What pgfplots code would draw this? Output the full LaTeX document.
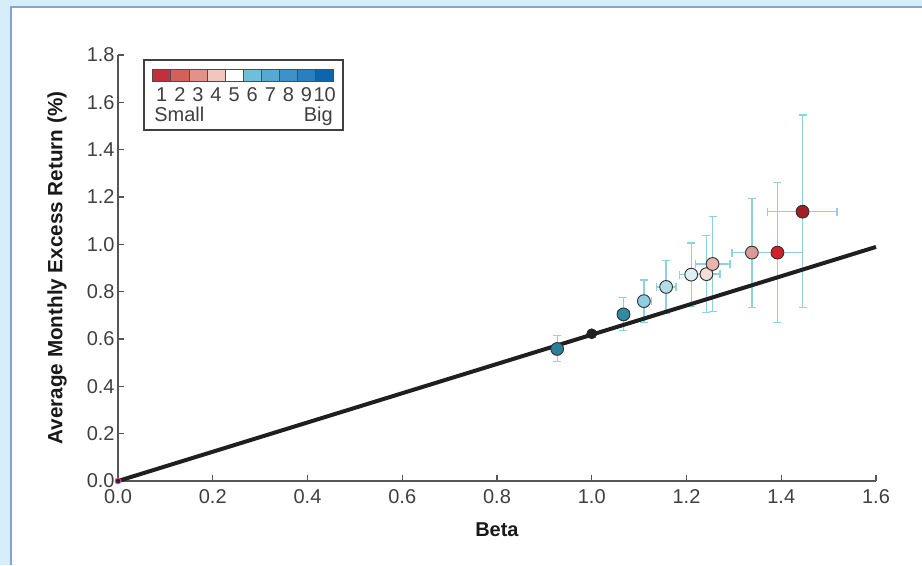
\documentclass[border=0pt]{standalone}
\usepackage{pgfplots}
\pgfplotsset{compat=1.18}
\usepackage{fontspec}
\setmainfont{Liberation Sans}
\definecolor{bgblue}{HTML}{D5EEFA}
\definecolor{frameblue}{HTML}{86A3CF}
\definecolor{errc}{HTML}{8DD3DE}
\definecolor{axisgray}{HTML}{555555}
\definecolor{txtgray}{HTML}{404040}
\definecolor{pA}{HTML}{A51C24}
\definecolor{pB}{HTML}{D0202A}
\definecolor{pC}{HTML}{D99A98}
\definecolor{pD}{HTML}{E8B4B0}
\definecolor{pE}{HTML}{F6DCD8}
\definecolor{pF}{HTML}{DFF0F4}
\definecolor{pG}{HTML}{B3DDE8}
\definecolor{pH}{HTML}{8FCDE0}
\definecolor{pI}{HTML}{2F8AA3}
\definecolor{pJ}{HTML}{2B7F99}
\definecolor{lA}{HTML}{C1313B}
\definecolor{lB}{HTML}{D5605A}
\definecolor{lC}{HTML}{E3928A}
\definecolor{lD}{HTML}{F2C6BD}
\definecolor{lE}{HTML}{FFFFFF}
\definecolor{lF}{HTML}{6FBEDC}
\definecolor{lG}{HTML}{55A9D3}
\definecolor{lH}{HTML}{3D92C7}
\definecolor{lI}{HTML}{2A7FBD}
\definecolor{lJ}{HTML}{0F64AD}
\begin{document}
\begin{tikzpicture}[x=0.75pt,y=0.75pt]
\path[use as bounding box] (0,0) rectangle (922,565);
\fill[bgblue] (0,0) rectangle (922,565);
\fill[white] (10.5,0) rectangle (922,557.5);
\draw[frameblue, line width=1.5pt] (10.5,0) -- (10.5,557.5) -- (922,557.5);
\begin{axis}[
  at={(88.5pt,63pt)}, anchor=south west,
  scale only axis, width=568.5pt, height=319.5pt,
  xmin=0, xmax=1.6, ymin=0, ymax=1.8,
  axis x line*=bottom, axis y line*=left,
  axis line style={axisgray, line width=0.8pt, -},
  tick align=inside, major tick length=4.5pt,
  tick style={axisgray, line width=0.8pt},
  xtick={0,0.2,...,1.6}, ytick={0,0.2,...,1.8},
  clip=false,
  /pgf/number format/.cd, fixed, fixed zerofill, precision=1, assume math mode=true, /pgfplots/.cd,
  ticklabel style={font=\fontsize{15}{18}\selectfont, text=txtgray},
  xticklabel style={yshift=-3pt},
  yticklabel style={xshift=1pt},
  xlabel={\textbf{Beta}},
  ylabel={\textbf{Average Monthly Excess Return (\%)}},
  xlabel style={font=\fontsize{15}{18}\selectfont, text=black!90, at={(axis description cs:0.5,-0.115)}, anchor=center},
  ylabel style={font=\fontsize{15.5}{18}\selectfont, text=black!90, at={(axis description cs:-0.0805,0.5)}, anchor=center},
]
% error bars
\addplot[errc, only marks, mark=none,
  error bars/.cd, x dir=both, x explicit, y dir=both, y explicit,
  error bar style={errc, line width=1pt},
  error mark options={draw=errc, line width=1pt, rotate=90, mark size=3pt}]
coordinates {
  (0.927,0.558) += (0,0.056) -= (0,0.054)
  (1.067,0.704) += (0.012,0.071) -= (0.012,0.069)
  (1.110,0.760) += (0.016,0.090) -= (0.009,0.090)
  (1.157,0.820) += (0.021,0.112) -= (0.020,0.113)
  (1.210,0.872) += (0.024,0.134) -= (0.025,0.134)
  (1.242,0.874) += (0.029,0.164) -= (0.030,0.161)
  (1.255,0.917) += (0.037,0.201) -= (0.036,0.202)
  (1.338,0.965) += (0.042,0.228) -= (0.042,0.233)
  (1.392,0.965) += (0.053,0.295) -= (0.053,0.295)
  (1.445,1.138) += (0.073,0.408) -= (0.074,0.406)
};
% security market line
\addplot[color=black!88, line width=3pt, mark=none] coordinates {(0,0) (1.6,0.989)};
% points
\addplot[only marks, mark=*, mark size=4.8pt, mark options={fill=pJ, draw=black!80, line width=0.7pt}] coordinates {(0.927,0.558)};
\addplot[only marks, mark=*, mark size=3.8pt, mark options={fill=black!88, draw=black!88}] coordinates {(1.0,0.622)};
\addplot[only marks, mark=*, mark size=4.8pt, mark options={fill=pI, draw=black!80, line width=0.7pt}] coordinates {(1.067,0.704)};
\addplot[only marks, mark=*, mark size=4.8pt, mark options={fill=pH, draw=black!80, line width=0.7pt}] coordinates {(1.110,0.760)};
\addplot[only marks, mark=*, mark size=4.8pt, mark options={fill=pG, draw=black!80, line width=0.7pt}] coordinates {(1.157,0.820)};
\addplot[only marks, mark=*, mark size=4.8pt, mark options={fill=pF, draw=black!80, line width=0.7pt}] coordinates {(1.210,0.872)};
\addplot[only marks, mark=*, mark size=4.8pt, mark options={fill=pE, draw=black!80, line width=0.7pt}] coordinates {(1.242,0.874)};
\addplot[only marks, mark=*, mark size=4.8pt, mark options={fill=pD, draw=black!80, line width=0.7pt}] coordinates {(1.255,0.917)};
\addplot[only marks, mark=*, mark size=4.8pt, mark options={fill=pC, draw=black!80, line width=0.7pt}] coordinates {(1.338,0.965)};
\addplot[only marks, mark=*, mark size=4.8pt, mark options={fill=pB, draw=black!80, line width=0.7pt}] coordinates {(1.392,0.965)};
\addplot[only marks, mark=*, mark size=4.8pt, mark options={fill=pA, draw=black!80, line width=0.7pt}] coordinates {(1.445,1.138)};
\addplot[only marks, mark=*, mark size=2.2pt, mark options={fill=black!85, draw=magenta!70, line width=0.6pt}] coordinates {(0,0)};
\end{axis}
% size legend
\draw[black!75, line width=0.8pt] (144,505) rectangle (343,435);
\foreach \c [count=\i] in {lA,lB,lC,lD,lE,lF,lG,lH,lI,lJ}{
  \draw[fill=\c, draw=black!70, line width=0.6pt] ({152.7+18.1*(\i-1)},496) rectangle ({152.7+18.1*\i},483.5);
  \node[font=\fontsize{15}{18}\selectfont, text=txtgray, inner sep=0pt, anchor=base] at ({152.7+18.1*(\i-0.5)},463.5) {\i};
}
\node[font=\fontsize{15}{18}\selectfont, text=txtgray, inner sep=0pt, anchor=base west] at (154,443.5) {Small};
\node[font=\fontsize{15}{18}\selectfont, text=txtgray, inner sep=0pt, anchor=base east] at (333,443.5) {Big};
\end{tikzpicture}
\end{document}
